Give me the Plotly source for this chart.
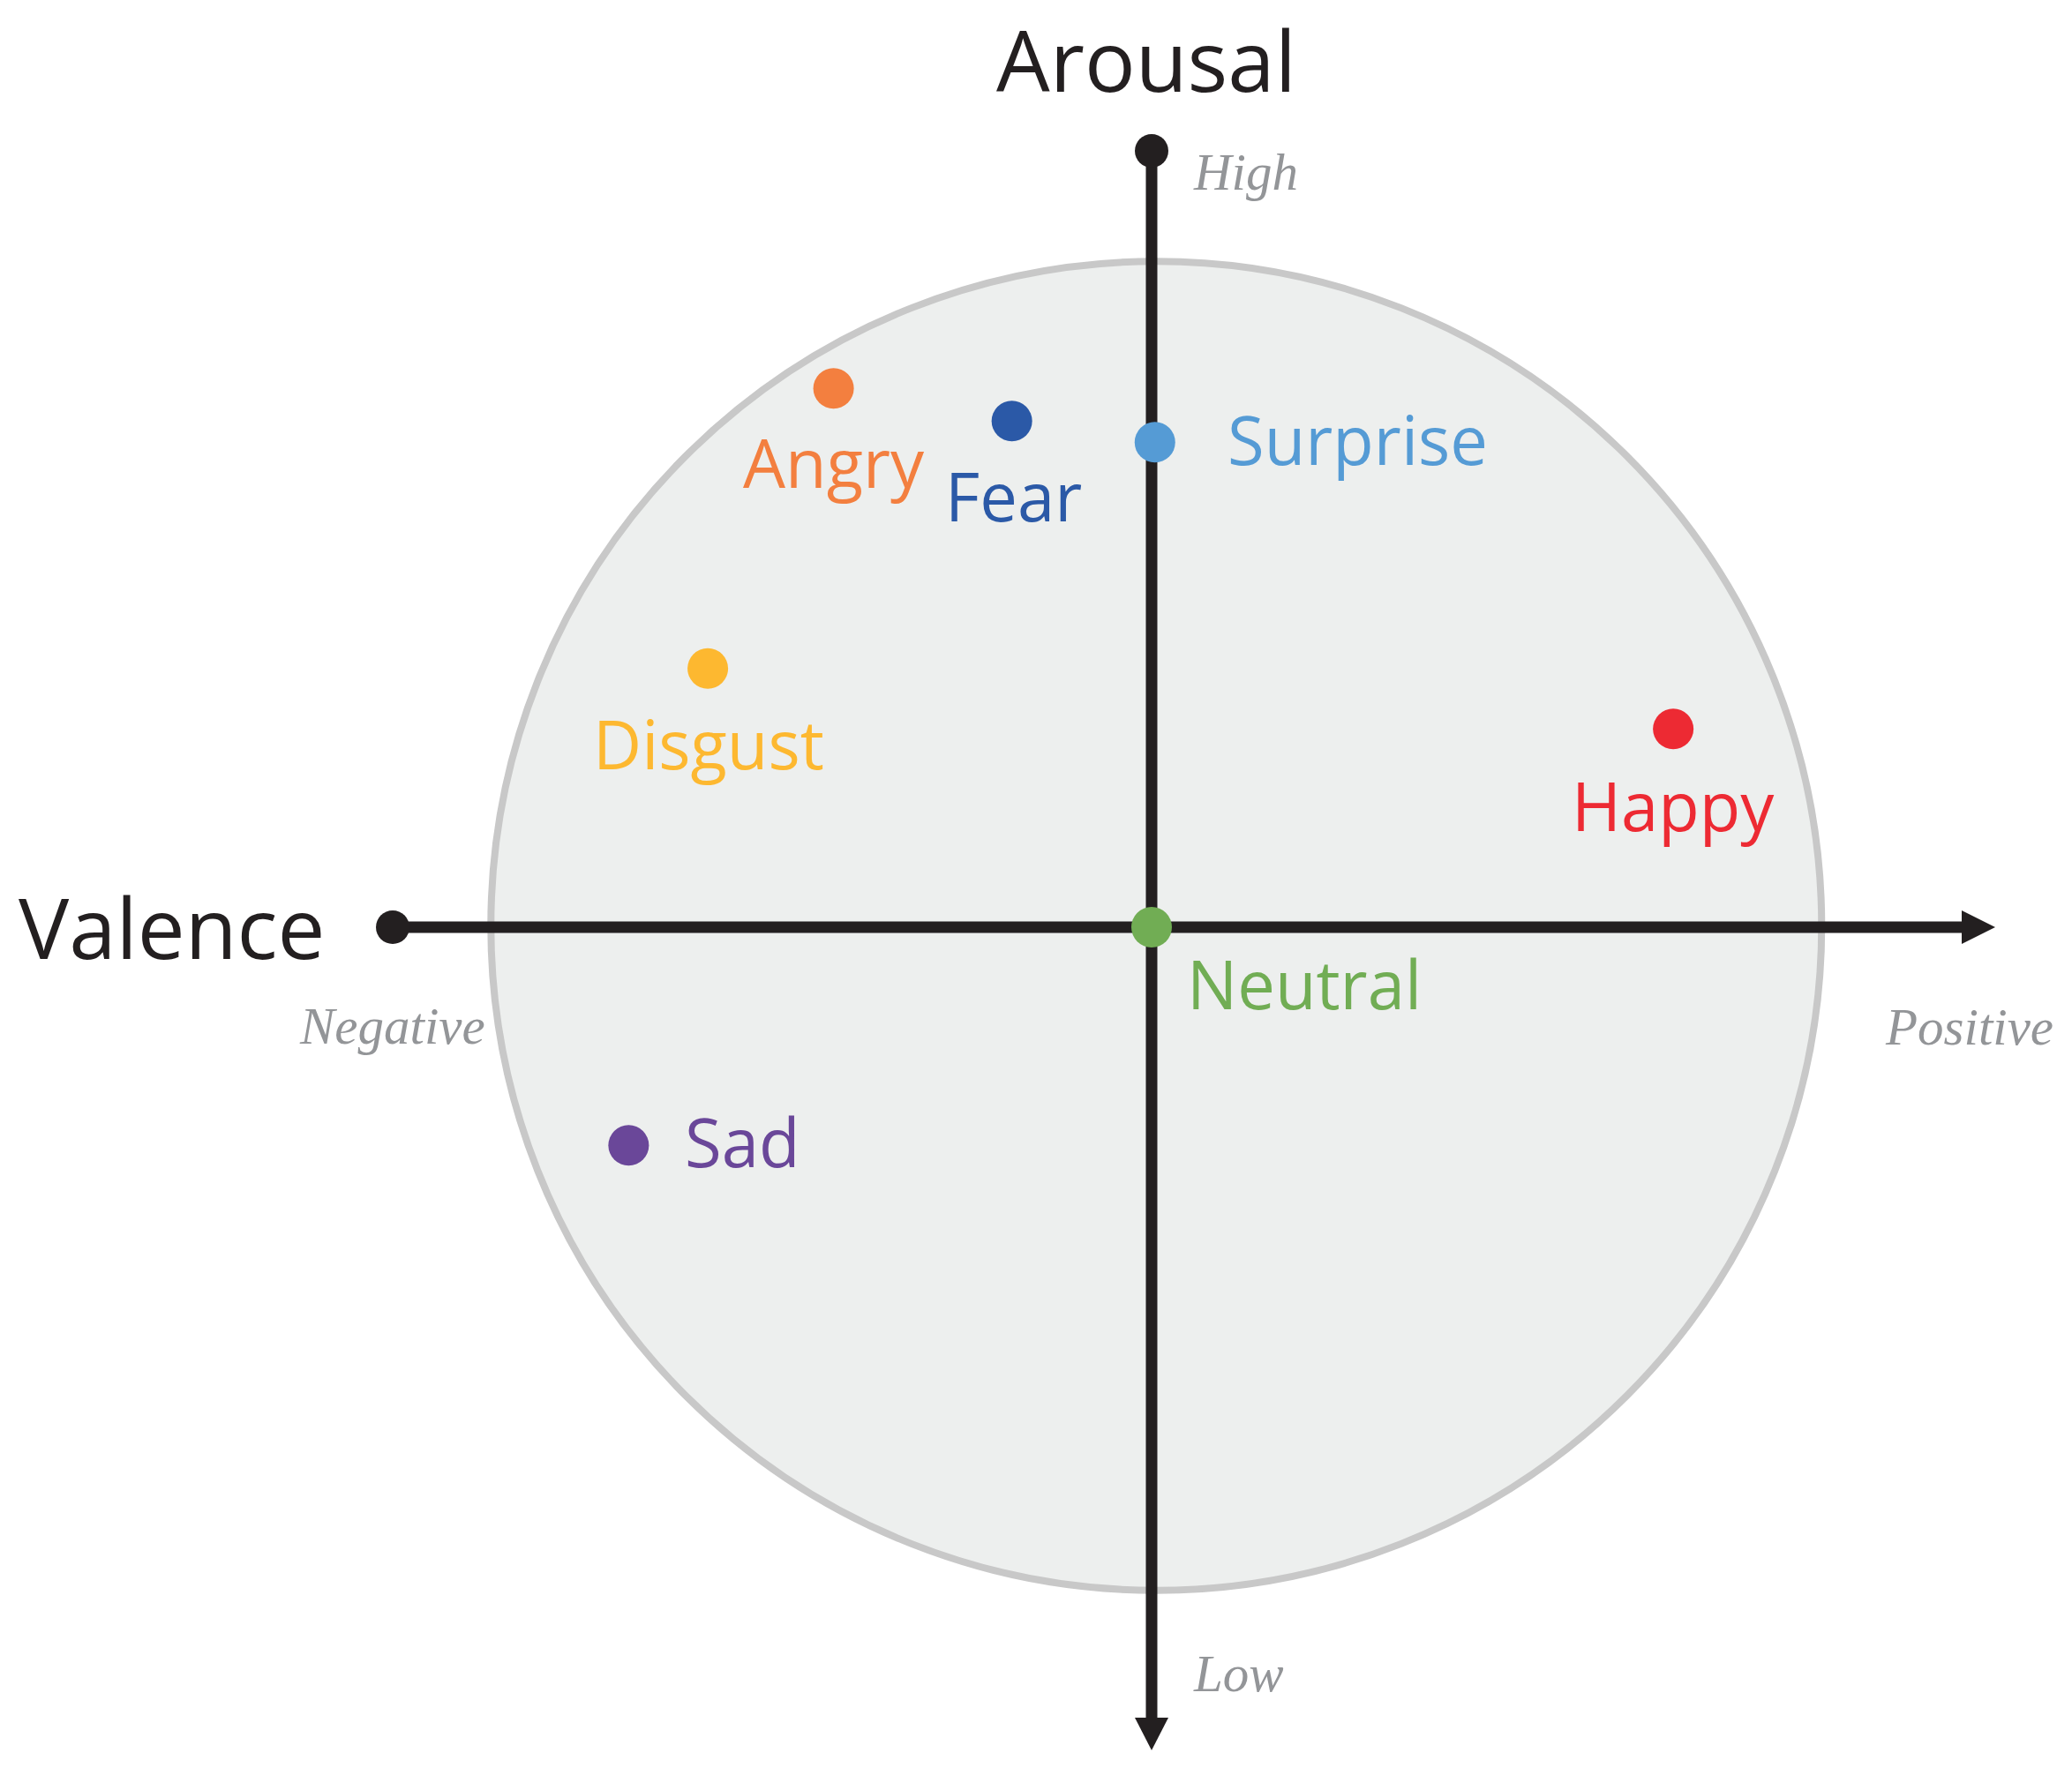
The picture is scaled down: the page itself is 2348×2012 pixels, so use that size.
import plotly.graph_objects as go

# ---------------- data ----------------
emotions = ["Angry", "Fear", "Surprise", "Disgust", "Happy", "Neutral", "Sad"]
valence = [-0.478, -0.210, 0.005, -0.667, 0.784, 0.000, -0.786]
arousal = [0.810, 0.761, 0.729, 0.389, 0.298, 0.000, -0.328]
colors = ["#f37f3f", "#2b59a7", "#559bd5", "#fdb830", "#ed2a33", "#71ad54", "#6a4799"]

axis_titles = ["Valence", "Arousal"]
valence_ticks = ["Negative", "Positive"]
arousal_ticks = ["High", "Low"]

# ---------------- layout helpers (pixels -> data units) ----------------
W, H = 2348, 2012
U = 754.0            # pixels per data unit
OX, OY = 1305, 1051  # pixel location of the origin


def px2x(px):
    return (px - OX) / U


def px2y(py):
    return (OY - py) / U


# label placement: (xanchor, dx px, baseline offset px below dot)
label_style = {
    "Angry": ("center", 0, 113),
    "Fear": ("center", 2, 114),
    "Surprise": ("left", 80, 26),
    "Disgust": ("center", 1, 114),
    "Happy": ("center", 0, 116),
    "Neutral": ("left", 38, 93),
    "Sad": ("left", 62, 25),
}

AXIS_COLOR = "#231f20"
GRAY_TEXT = "#939598"
SANS = "Open Sans"
SERIF = "Liberation Serif"
LBL_FS = 76
TITLE_FS = 96
TICK_FS = 59

fig = go.Figure()

# axis extents (data units)
h_start, h_base, h_tip = px2x(445), px2x(2223), px2x(2261)
v_start, v_base, v_tip = px2y(171), px2y(1947), px2y(1984)
head = 19 / U

shapes = [
    dict(type="circle", xref="x", yref="y", x0=-0.993, x1=1.007, y0=-0.997, y1=1.001,
         fillcolor="#edefee", line=dict(color="#c8c8c8", width=8), layer="below"),
    dict(type="line", xref="x", yref="y", x0=h_start, x1=h_base, y0=0, y1=0,
         line=dict(color=AXIS_COLOR, width=13), layer="below"),
    dict(type="line", xref="x", yref="y", x0=0, x1=0, y0=v_start, y1=v_base,
         line=dict(color=AXIS_COLOR, width=13), layer="below"),
    dict(type="path", xref="x", yref="y",
         path=f"M {h_base} {head} L {h_tip} 0 L {h_base} {-head} Z",
         fillcolor=AXIS_COLOR, line=dict(width=0), layer="below"),
    dict(type="path", xref="x", yref="y",
         path=f"M {-head} {v_base} L 0 {v_tip} L {head} {v_base} Z",
         fillcolor=AXIS_COLOR, line=dict(width=0), layer="below"),
]

# axis start dots
fig.add_trace(go.Scatter(x=[h_start, 0], y=[0, v_start], mode="markers",
                         marker=dict(size=38, color=AXIS_COLOR, line=dict(width=0)),
                         hoverinfo="skip", showlegend=False))

# emotion points
fig.add_trace(go.Scatter(x=valence, y=arousal, mode="markers",
                         marker=dict(size=46, color=colors, line=dict(width=0)),
                         text=emotions, hoverinfo="text", showlegend=False))

annotations = []
for name, v, a, c in zip(emotions, valence, arousal, colors):
    xa, dx, db = label_style[name]
    annotations.append(dict(
        x=v, y=a, xref="x", yref="y", text=name, showarrow=False,
        xanchor=xa, yanchor="middle", xshift=dx, yshift=-(db - 0.388 * LBL_FS),
        font=dict(family=SANS, size=LBL_FS, color=c)))

# axis titles
annotations.append(dict(x=px2x(370), y=px2y(1087 - 0.388 * TITLE_FS), xref="x", yref="y",
                        text=axis_titles[0], showarrow=False, xanchor="right", yanchor="middle",
                        font=dict(family=SANS, size=TITLE_FS, color=AXIS_COLOR)))
annotations.append(dict(x=px2x(1299), y=px2y(104 - 0.388 * TITLE_FS), xref="x", yref="y",
                        text=axis_titles[1], showarrow=False, xanchor="center", yanchor="middle",
                        font=dict(family=SANS, size=TITLE_FS, color=AXIS_COLOR)))

# pole labels
tick_font = dict(family=SERIF, size=TICK_FS, color=GRAY_TEXT, style="italic")
off = 0.3375 * TICK_FS
annotations.append(dict(x=px2x(552), y=px2y(1183 - off), xref="x", yref="y", text=valence_ticks[0],
                        showarrow=False, xanchor="right", yanchor="middle", font=tick_font))
annotations.append(dict(x=px2x(2134), y=px2y(1184 - off), xref="x", yref="y", text=valence_ticks[1],
                        showarrow=False, xanchor="left", yanchor="middle", font=tick_font))
annotations.append(dict(x=px2x(1350), y=px2y(215 - off), xref="x", yref="y", text=arousal_ticks[0],
                        showarrow=False, xanchor="left", yanchor="middle", font=tick_font))
annotations.append(dict(x=px2x(1350), y=px2y(1917 - off), xref="x", yref="y", text=arousal_ticks[1],
                        showarrow=False, xanchor="left", yanchor="middle", font=tick_font))

fig.update_layout(
    width=W, height=H,
    margin=dict(l=0, r=0, t=0, b=0, pad=0),
    paper_bgcolor="white", plot_bgcolor="white",
    xaxis=dict(range=[-OX / U, (W - OX) / U], visible=False, fixedrange=True),
    yaxis=dict(range=[(OY - H) / U, OY / U], visible=False, fixedrange=True),
    shapes=shapes, annotations=annotations, showlegend=False,
)

fig.write_html("out.html", config={"displayModeBar": False},
               post_script="document.body.style.margin='0';")
